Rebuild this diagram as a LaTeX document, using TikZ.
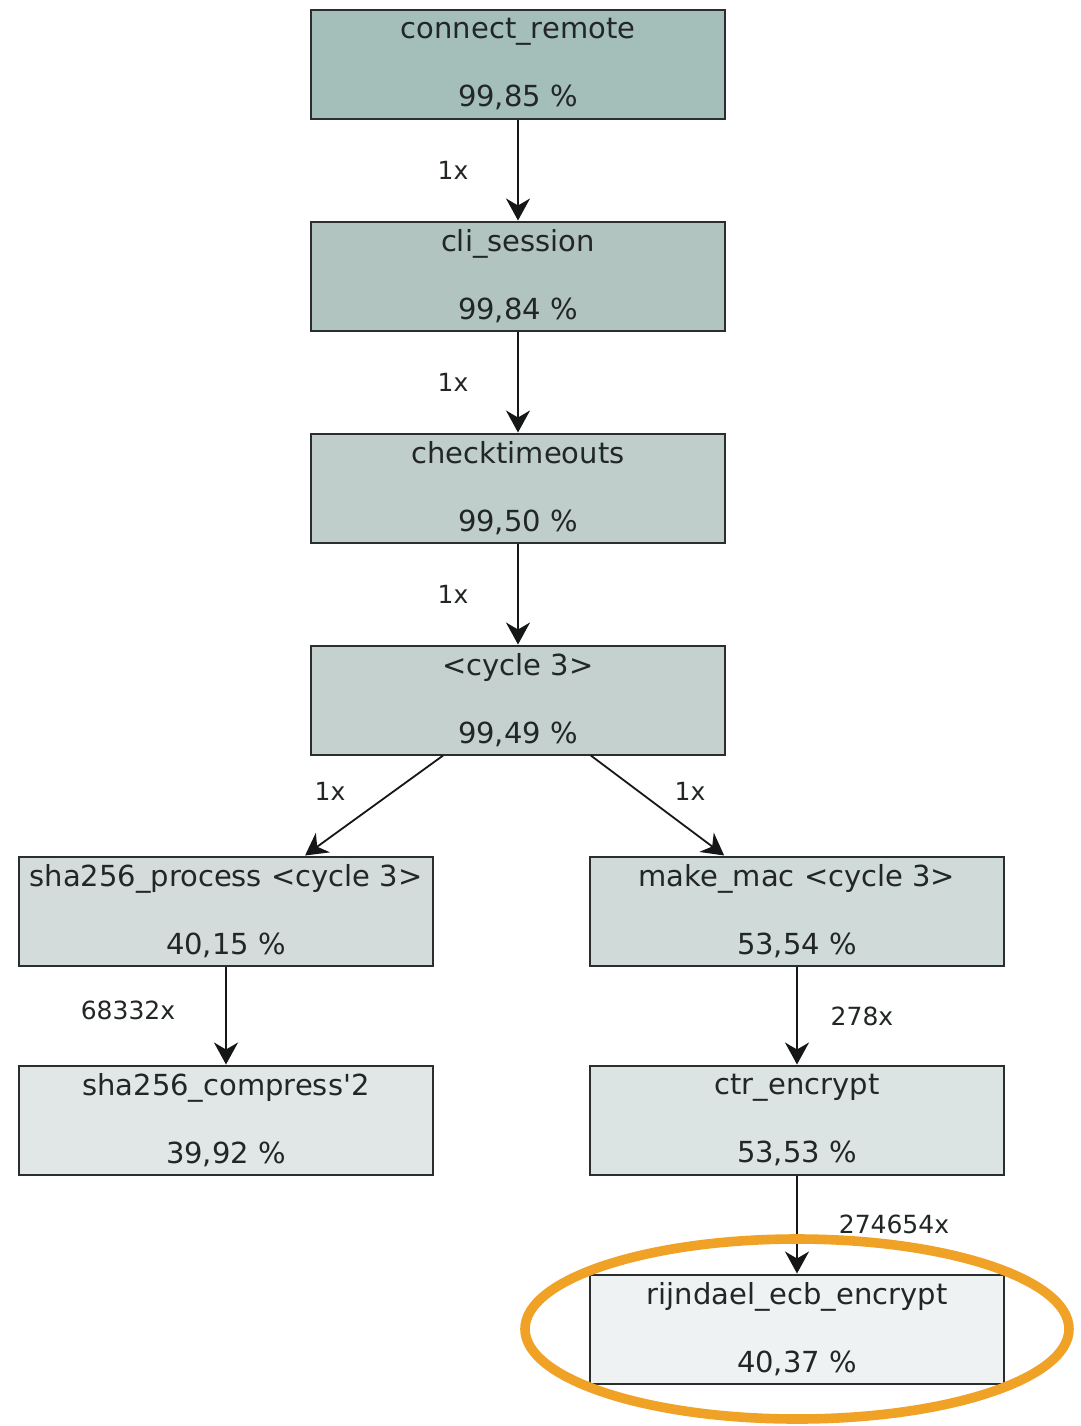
\documentclass[tikz,border=0pt]{standalone}
\usepackage{fontspec}
\newfontfamily\dv{DejaVu Sans}
\usetikzlibrary{arrows.meta,calc}
\definecolor{txt}{HTML}{222626}
\definecolor{edge}{HTML}{2A2E2E}
\definecolor{wire}{HTML}{151717}
\definecolor{cA}{HTML}{A4BFBA}
\definecolor{cB}{HTML}{B1C4C0}
\definecolor{cC}{HTML}{BFCECB}
\definecolor{cD}{HTML}{C4D1CE}
\definecolor{cE}{HTML}{D3DCDB}
\definecolor{cF}{HTML}{D0DAD8}
\definecolor{cG}{HTML}{E1E7E7}
\definecolor{cH}{HTML}{DCE3E3}
\definecolor{cI}{HTML}{EEF2F3}
\definecolor{hl}{HTML}{F0A227}
\tikzset{
  fn/.style={draw=edge, line width=1pt, rectangle, minimum width=207pt,
    minimum height=54.5pt, inner sep=0pt, align=center, text=txt,
    font=\dv\fontsize{14.5}{34}\selectfont},
  calls/.style={text=txt, font=\dv\fontsize{12.5}{15}\selectfont, inner sep=0pt},
  arr/.style={draw=wire, line width=0.9pt, -{Stealth[length=11pt,width=12pt,inset=3.5pt]}},
}
\begin{document}
\begin{tikzpicture}[x=0.5pt,y=-0.5pt]
\useasboundingbox (0,0) rectangle (1081,1426);
\fill[white] (0,0) rectangle (1081,1426);

% call graph nodes
\node[fn, fill=cA] (cr)  at (518,64)   {connect\_remote\\99,85 \%};
\node[fn, fill=cB] (cs)  at (518,276)  {cli\_session\\99,84 \%};
\node[fn, fill=cC] (ct)  at (518,488)  {checktimeouts\\99,50 \%};
\node[fn, fill=cD] (cy)  at (518,700)  {<cycle 3>\\99,49 \%};
\node[fn, fill=cE] (sp)  at (226,911)  {sha256\_process <cycle 3>\\40,15 \%};
\node[fn, fill=cF] (mm)  at (797,911)  {make\_mac <cycle 3>\\53,54 \%};
\node[fn, fill=cG] (sc)  at (226,1120) {sha256\_compress'2\\39,92 \%};
\node[fn, fill=cH] (ce)  at (797,1120) {ctr\_encrypt\\53,53 \%};
\node[fn, fill=cI] (re)  at (797,1329) {rijndael\_ecb\_encrypt\\40,37 \%};

% call edges
\draw[arr] (cr.south) -- (cs.north);
\draw[arr] (cs.south) -- (ct.north);
\draw[arr] (ct.south) -- (cy.north);
\draw[arr] ($(cy.south west)!0.32!(cy.south east)$) -- ($(sp.north west)!0.69!(sp.north east)$);
\draw[arr] ($(cy.south west)!0.675!(cy.south east)$) -- ($(mm.north west)!0.325!(mm.north east)$);
\draw[arr] (sp.south) -- (sc.north);
\draw[arr] (mm.south) -- (ce.north);
\draw[arr] (ce.south) -- (re.north);

% call counts
\node[calls] (n1) at (453,170)  {1x};
\node[calls] (n2) at (453,382)  {1x};
\node[calls] (n3) at (453,594)  {1x};
\node[calls] (n4) at (330,791)  {1x};
\node[calls] (n5) at (690,791)  {1x};
\node[calls] (n6) at (128,1010) {68332x};
\node[calls] (n7) at (862,1016) {278x};
\node[calls] (n8) at (894,1224) {274654x};

% highlight around the hot function
\draw[hl, line width=4.8pt] (re.center) ellipse [x radius=272, y radius=90];
\end{tikzpicture}
\end{document}
